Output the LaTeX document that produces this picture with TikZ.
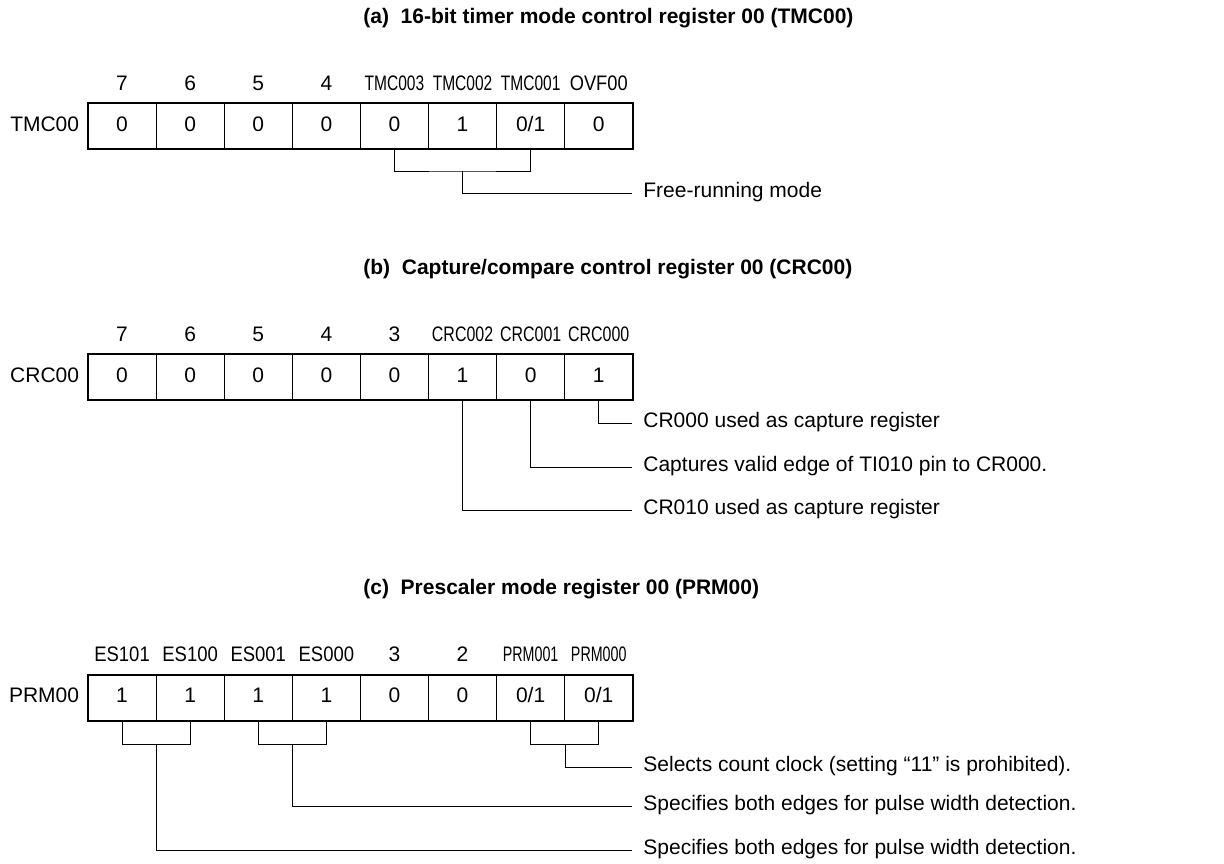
\documentclass[tikz,border=0pt]{standalone}
\usepackage{fontspec}
\setmainfont{Liberation Sans}
\usetikzlibrary{positioning}
\newcommand\nr[2][0.74]{\scalebox{#1}[1]{#2}}
\tikzset{
  cell/.style={draw, line width=0.5pt, minimum width=34.05pt, minimum height=22.5pt, inner sep=0pt, text height=0.72em, text depth=0.22em, font=\fontsize{10.5}{12}\selectfont},
  regframe/.style={line width=1pt},
  bitlbl/.style={inner sep=0pt, text height=0.72em, text depth=0pt, font=\fontsize{10.5}{12}\selectfont},
  regname/.style={anchor=east, inner xsep=4pt, inner ysep=0pt, text height=0.72em, text depth=0.22em, font=\fontsize{10.5}{12}\selectfont},
  title/.style={anchor=west, inner sep=0pt, font=\fontsize{10.5}{12}\selectfont\bfseries},
  desc/.style={anchor=west, inner xsep=5.5pt, inner ysep=0pt, text height=0.62em, text depth=0.22em, font=\fontsize{10.5}{12}\selectfont},
  wire/.style={line width=0.5pt},
}
\begin{document}
\begin{tikzpicture}[x=0.5pt, y=-0.5pt]
	\useasboundingbox (0,0) rectangle (1224,863);
	% (a) TMC00
	\node[title] (ta) at (363,18) {(a)~~16-bit timer mode control register 00 (TMC00)};
	\foreach \v [count=\i] in {0,0,0,0,0,1,0/1,0}
		\node[cell] (a\i) at ({122.05+68.1*(\i-1)},126) {\v};
	\foreach \l [count=\i] in {7,6,5,4,\nr{TMC003},\nr{TMC002},\nr{TMC001},\nr[0.87]{OVF00}}
		\node[bitlbl] (na\i) at ([yshift=10pt]a\i.north) {\l};
	\draw[regframe] (a1.north west) rectangle (a8.south east);
	\node[regname] (ra) at (a1.west) {TMC00};
	\node[desc] (da) at (632,193) {Free-running mode};
	\coordinate (ja) at ([yshift=-11pt]a6.south);
	\draw[wire] (a5.south) |- (ja) -| (a7.south);
	\draw[wire] (ja) |- (da.west);
	% (b) CRC00
	\node[title] (tb) at (363,269) {(b)~~Capture/compare control register 00 (CRC00)};
	\foreach \v [count=\i] in {0,0,0,0,0,1,0,1}
		\node[cell] (b\i) at ({122.05+68.1*(\i-1)},377) {\v};
	\foreach \l [count=\i] in {7,6,5,4,3,\nr[0.76]{CRC002},\nr[0.76]{CRC001},\nr[0.76]{CRC000}}
		\node[bitlbl] (nb\i) at ([yshift=10pt]b\i.north) {\l};
	\draw[regframe] (b1.north west) rectangle (b8.south east);
	\node[regname] (rb) at (b1.west) {CRC00};
	\node[desc] (db1) at (632,423) {CR000 used as capture register};
	\node[desc] (db2) at (632,467) {Captures valid edge of TI010 pin to CR000.};
	\node[desc] (db3) at (632,510) {CR010 used as capture register};
	\draw[wire] (b8.south) |- (db1.west);
	\draw[wire] (b7.south) |- (db2.west);
	\draw[wire] (b6.south) |- (db3.west);
	% (c) PRM00
	\node[title] (tc) at (363,589) {(c)~~Prescaler mode register 00 (PRM00)};
	\foreach \v [count=\i] in {1,1,1,1,0,0,0/1,0/1}
		\node[cell] (c\i) at ({122.05+68.1*(\i-1)},697.5) {\v};
	\foreach \l [count=\i] in {\nr[0.88]{ES101},\nr[0.88]{ES100},\nr[0.88]{ES001},\nr[0.88]{ES000},3,2,\nr[0.68]{PRM001},\nr[0.68]{PRM000}}
		\node[bitlbl] (nc\i) at ([yshift=10pt]c\i.north) {\l};
	\draw[regframe] (c1.north west) rectangle (c8.south east);
	\node[regname] (rc) at (c1.west) {PRM00};
	\node[desc] (dc1) at (632,767) {Selects count clock (setting “11” is prohibited).};
	\node[desc] (dc2) at (632,806) {Specifies both edges for pulse width detection.};
	\node[desc] (dc3) at (632,850) {Specifies both edges for pulse width detection.};
	\coordinate (jc1) at ([yshift=-12pt]c1.south east);
	\coordinate (jc2) at ([yshift=-12pt]c3.south east);
	\coordinate (jc3) at ([yshift=-12pt]c7.south east);
	\draw[wire] (c1.south) |- (jc1) -| (c2.south);
	\draw[wire] (c3.south) |- (jc2) -| (c4.south);
	\draw[wire] (c7.south) |- (jc3) -| (c8.south);
	\draw[wire] (jc3) |- (dc1.west);
	\draw[wire] (jc2) |- (dc2.west);
	\draw[wire] (jc1) |- (dc3.west);
\end{tikzpicture}
\end{document}
